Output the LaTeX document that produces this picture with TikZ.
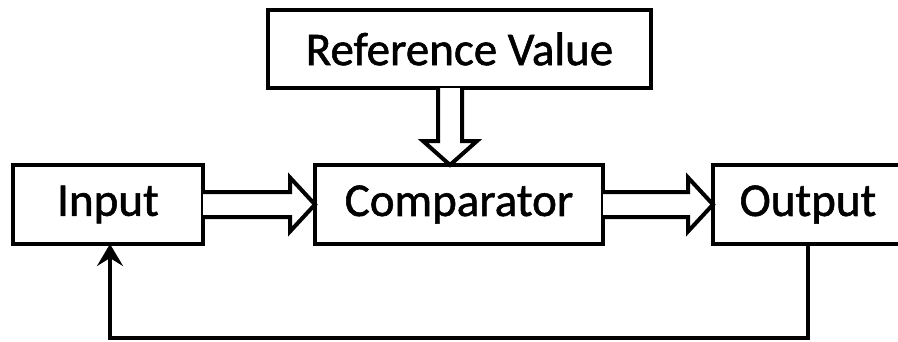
\documentclass[tikz,border=0pt]{standalone}
\usepackage{fontspec}
\setmainfont{Carlito}[BoldFont=Carlito,BoldFeatures={FakeBold=1.2}]
\usetikzlibrary{calc,arrows.meta}
\begin{document}
\begin{tikzpicture}[x=1pt,y=-1pt,
  blk/.style={draw=black,line width=4pt,inner sep=0pt,outer sep=0pt,
    font=\fontsize{47}{50}\selectfont\bfseries,text=black},
  hollow/.style={draw=black,line width=4pt,line join=miter,fill=white},
  fbline/.style={draw=black,line width=4pt,-{Stealth[length=22pt,width=26pt,inset=8pt]}}]
\useasboundingbox (0,0) rectangle (898,341);
\fill[white] (0,0) rectangle (898,341);
\node[blk,minimum width=383pt,minimum height=78pt] (ref) at (459.5,49) {Reference Value};
\node[blk,minimum width=190pt,minimum height=79pt] (in) at (108,204.5) {Input};
\node[blk,minimum width=288pt,minimum height=79pt] (cmp) at (459,204.5) {Comparator};
\node[blk,minimum width=190pt,minimum height=79pt] (out) at (808,204.5) {Output};
% hollow arrow input -> comparator
\draw[hollow] ($(in.east)+(0,-12.5)$) -- ($(cmp.west)+(-25,-12.5)$) -- ($(cmp.west)+(-25,-27)$)
  -- (cmp.west) -- ($(cmp.west)+(-25,27)$) -- ($(cmp.west)+(-25,12.5)$) -- ($(in.east)+(0,12.5)$);
% hollow arrow comparator -> output
\draw[hollow] ($(cmp.east)+(0,-12.5)$) -- ($(out.west)+(-25,-12.5)$) -- ($(out.west)+(-25,-27)$)
  -- (out.west) -- ($(out.west)+(-25,27)$) -- ($(out.west)+(-25,12.5)$) -- ($(cmp.east)+(0,12.5)$);
% hollow arrow reference -> comparator
\draw[hollow] ($(ref.south)+(-21.5,0)$) -- ($(cmp.north)+(-21,-24)$) -- ($(cmp.north)+(-36,-24)$)
  -- ($(cmp.north)+(-9,0)$) -- ($(cmp.north)+(18,-24)$) -- ($(cmp.north)+(3,-24)$) -- ($(ref.south)+(2.5,0)$);
% feedback
\draw[fbline] (out.south) -- ++(0,94) -| ($(in.south)+(2,0)$);
\end{tikzpicture}
\end{document}
